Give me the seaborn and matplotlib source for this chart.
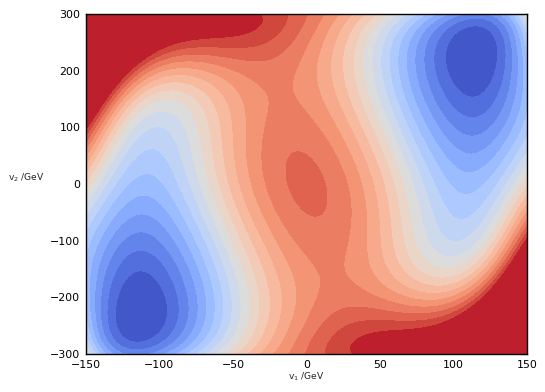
import numpy as np
import matplotlib
matplotlib.use("Agg")
import matplotlib.pyplot as plt
import seaborn as sns

# ---------------------------------------------------- #
#   potential V(v1, v2), in units of one contour step  #
# ---------------------------------------------------- #

# axis ranges (GeV)
v1_range = (-150, 150)
v2_range = (-300, 300)

# polynomial terms: coef * (v1/150)**x_power * (v2/300)**y_power
x_power = [0, 0, 1, 2, 0, 1, 2, 3, 4, 0, 1, 2, 3, 4, 5, 6, 0, 1, 2, 3, 4, 5, 6, 7, 8]
y_power = [0, 2, 1, 0, 4, 3, 2, 1, 0, 6, 5, 4, 3, 2, 1, 0, 8, 7, 6, 5, 4, 3, 2, 1, 0]
coef = [16.27, -9.71, -16.19, -38.04, 14.83,
        10.62, 2.31, 30.91, 23.43, -2.80,
        -39.90, 51.01, -49.94, 6.54, -46.38,
        30.43, -2.54, 33.47, -27.79, 22.38,
        -42.47, 36.31, 14.00, 14.34, -21.35]

# contour levels (everything above the last one is drawn with the top colour)
levels = np.arange(0, 20)

# Grid
v1 = np.linspace(v1_range[0], v1_range[1], 401)
v2 = np.linspace(v2_range[0], v2_range[1], 401)
V1, V2 = np.meshgrid(v1, v2)
x = V1 / v1_range[1]
y = V2 / v2_range[1]
Z = np.zeros_like(V1)
for c, i, j in zip(coef, x_power, y_power):
    Z += c * x**i * y**j
Z = np.clip(Z, levels[0] + 1e-3, levels[-1] - 1e-3)

# Estilo
sns.set_style("white")
plt.rcParams.update({
    "font.family": ["DejaVu Sans"],
    "xtick.direction": "in", "ytick.direction": "in",
    "xtick.top": True, "ytick.right": True,
    "xtick.major.size": 4, "ytick.major.size": 4,
    "axes.edgecolor": "black", "axes.linewidth": 1.0,
})

fig = plt.figure(figsize=(5.45, 3.92), dpi=100)
ax = fig.add_axes([86 / 545, 38 / 392, 441 / 545, 340 / 392])
ax.contourf(V1, V2, Z, levels=levels, cmap=sns.color_palette("coolwarm", as_cmap=True))
ax.set_xlim(*v1_range)
ax.set_ylim(*v2_range)
ax.set_xticks(np.arange(-150, 151, 50))
ax.set_yticks(np.arange(-300, 301, 100))
ax.tick_params(labelsize=7.9, pad=4, colors="black")
ax.set_xlabel("v$_1$ /GeV", fontsize=6.6, labelpad=1)
ax.set_ylabel("v$_2$ /GeV", fontsize=6.6, rotation=0)
ax.yaxis.set_label_coords(-0.136, 0.5)

fig.savefig("out.png", dpi=100)
